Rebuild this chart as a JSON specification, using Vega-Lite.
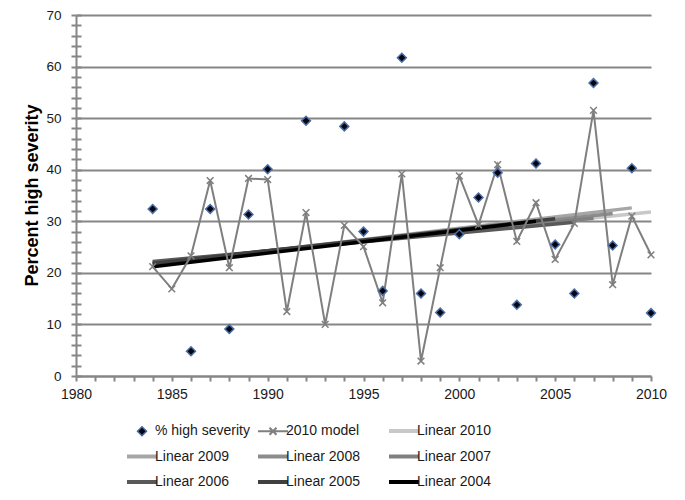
{
  "$schema": "https://vega.github.io/schema/vega-lite/v6.json",
  "width": 575,
  "height": 361,
  "autosize": {"type": "none"},
  "padding": {"left": 76, "top": 15, "right": 34, "bottom": 124},
  "background": "white",
  "config": {
    "view": {"stroke": null},
    "font": "Liberation Sans"
  },
  "data": {
    "values": [
      {"series": "Linear 2010", "year": 1984, "value": 21.9},
      {"series": "Linear 2010", "year": 2010, "value": 31.8},
      {"series": "Linear 2009", "year": 1984, "value": 21.6},
      {"series": "Linear 2009", "year": 2009, "value": 32.6},
      {"series": "Linear 2008", "year": 1984, "value": 21.8},
      {"series": "Linear 2008", "year": 2008, "value": 31.5},
      {"series": "Linear 2007", "year": 1984, "value": 22.0},
      {"series": "Linear 2007", "year": 2007, "value": 30.6},
      {"series": "Linear 2006", "year": 1984, "value": 22.2},
      {"series": "Linear 2006", "year": 2006, "value": 29.8},
      {"series": "Linear 2005", "year": 1984, "value": 21.8},
      {"series": "Linear 2005", "year": 2005, "value": 30.5},
      {"series": "Linear 2004", "year": 1984, "value": 21.2},
      {"series": "Linear 2004", "year": 2004, "value": 30.0},
      {"series": "2010 model", "year": 1984, "value": 21.2},
      {"series": "2010 model", "year": 1985, "value": 16.9},
      {"series": "2010 model", "year": 1986, "value": 23.3},
      {"series": "2010 model", "year": 1987, "value": 37.9},
      {"series": "2010 model", "year": 1988, "value": 21.0},
      {"series": "2010 model", "year": 1989, "value": 38.3},
      {"series": "2010 model", "year": 1990, "value": 38.1},
      {"series": "2010 model", "year": 1991, "value": 12.5},
      {"series": "2010 model", "year": 1992, "value": 31.7},
      {"series": "2010 model", "year": 1993, "value": 10.0},
      {"series": "2010 model", "year": 1994, "value": 29.2},
      {"series": "2010 model", "year": 1995, "value": 25.1},
      {"series": "2010 model", "year": 1996, "value": 14.2},
      {"series": "2010 model", "year": 1997, "value": 39.2},
      {"series": "2010 model", "year": 1998, "value": 2.9},
      {"series": "2010 model", "year": 1999, "value": 21.0},
      {"series": "2010 model", "year": 2000, "value": 38.8},
      {"series": "2010 model", "year": 2001, "value": 29.3},
      {"series": "2010 model", "year": 2002, "value": 41.0},
      {"series": "2010 model", "year": 2003, "value": 26.1},
      {"series": "2010 model", "year": 2004, "value": 33.6},
      {"series": "2010 model", "year": 2005, "value": 22.6},
      {"series": "2010 model", "year": 2006, "value": 29.6},
      {"series": "2010 model", "year": 2007, "value": 51.5},
      {"series": "2010 model", "year": 2008, "value": 17.7},
      {"series": "2010 model", "year": 2009, "value": 31.0},
      {"series": "2010 model", "year": 2010, "value": 23.5},
      {"series": "% high severity", "year": 1984, "value": 32.4},
      {"series": "% high severity", "year": 1986, "value": 4.8},
      {"series": "% high severity", "year": 1987, "value": 32.4},
      {"series": "% high severity", "year": 1988, "value": 9.1},
      {"series": "% high severity", "year": 1989, "value": 31.3},
      {"series": "% high severity", "year": 1990, "value": 40.1},
      {"series": "% high severity", "year": 1992, "value": 49.5},
      {"series": "% high severity", "year": 1994, "value": 48.4},
      {"series": "% high severity", "year": 1995, "value": 28.0},
      {"series": "% high severity", "year": 1996, "value": 16.5},
      {"series": "% high severity", "year": 1997, "value": 61.7},
      {"series": "% high severity", "year": 1998, "value": 16.0},
      {"series": "% high severity", "year": 1999, "value": 12.3},
      {"series": "% high severity", "year": 2000, "value": 27.5},
      {"series": "% high severity", "year": 2001, "value": 34.6},
      {"series": "% high severity", "year": 2002, "value": 39.4},
      {"series": "% high severity", "year": 2003, "value": 13.8},
      {"series": "% high severity", "year": 2004, "value": 41.2},
      {"series": "% high severity", "year": 2005, "value": 25.5},
      {"series": "% high severity", "year": 2006, "value": 16.0},
      {"series": "% high severity", "year": 2007, "value": 56.8},
      {"series": "% high severity", "year": 2008, "value": 25.3},
      {"series": "% high severity", "year": 2009, "value": 40.3},
      {"series": "% high severity", "year": 2010, "value": 12.2}
    ]
  },
  "resolve": {"axis": {"y": "independent"}},
  "encoding": {
    "x": {
      "field": "year", "type": "quantitative",
      "scale": {"domain": [1980, 2010], "nice": false, "zero": false},
      "axis": {
        "values": [1980,1981,1982,1983,1984,1985,1986,1987,1988,1989,1990,1991,1992,1993,1994,1995,1996,1997,1998,1999,2000,2001,2002,2003,2004,2005,2006,2007,2008,2009,2010],
        "format": "d",
        "labelExpr": "datum.value % 5 === 0 ? datum.label : ''",
        "grid": false,
        "tickSize": 5, "tickColor": "#868686", "tickWidth": 2,
        "domainColor": "#868686", "domainWidth": 2,
        "labelFontSize": 14, "labelPadding": 6, "labelColor": "#1a1a1a",
        "labelOverlap": false, "labelFlush": false,
        "title": null
      }
    }
  },
  "layer": [
    {
      "transform": [{"filter": "indexof(datum.series, 'Linear') === 0"}],
      "mark": {"type": "line", "strokeWidth": 3.5},
      "encoding": {
        "y": {
          "field": "value", "type": "quantitative",
          "scale": {"domain": [0, 70], "nice": false},
          "axis": {
            "orient": "left",
            "values": [0,2,4,6,8,10,12,14,16,18,20,22,24,26,28,30,32,34,36,38,40,42,44,46,48,50,52,54,56,58,60,62,64,66,68,70],
            "labelExpr": "datum.value % 10 === 0 ? datum.label : ''",
            "labelOverlap": false,
            "grid": true, "gridColor": "#868686", "gridWidth": 2,
            "gridOpacity": {"condition": {"test": "datum.value % 10 === 0", "value": 1}, "value": 0},
            "tickSize": 5, "tickColor": "#868686", "tickWidth": 2,
            "domainColor": "#868686", "domainWidth": 2,
            "labelFontSize": 13.5, "labelPadding": 10, "labelColor": "#1a1a1a",
            "title": "Percent high severity",
            "titleFontSize": 18, "titleFontWeight": "bold", "titleColor": "black",
            "titleX": -39, "titleY": 180, "titleAngle": 270,
            "titleAlign": "center", "titleBaseline": "alphabetic"
          }
        },
        "color": {
          "field": "series", "type": "nominal",
          "scale": {
            "domain": ["% high severity", "2010 model", "Linear 2010", "Linear 2009", "Linear 2008", "Linear 2007", "Linear 2006", "Linear 2005", "Linear 2004"],
            "range": ["#46689c", "#7f7f7f", "#c8c8c8", "#a6a6a6", "#8c8c8c", "#808080", "#595959", "#404040", "#000000"]
          },
          "legend": {
            "orient": "none", "legendX": 59, "legendY": 409,
            "direction": "horizontal", "columns": 3, "title": null,
            "symbolSize": 400, "symbolType": "stroke", "symbolStrokeWidth": 4,
            "labelFontSize": 14, "labelColor": "#1a1a1a", "labelOffset": 6,
            "columnPadding": 0, "rowPadding": 9.5, "gridAlign": "all",
            "padding": 0, "labelLimit": 200,
            "encode": {
              "symbols": {
                "update": {
                  "shape": {"signal": "datum.value === '% high severity' ? 'diamond' : datum.value === '2010 model' ? 'M-1.5,0H1.5M-0.35,-0.35L0.35,0.35M-0.35,0.35L0.35,-0.35' : 'M-1.5,0H1.5'"},
                  "size": {"signal": "datum.value === '% high severity' ? 80 : 400"},
                  "fill": {"signal": "datum.value === '% high severity' ? '#050510' : 'transparent'"},
                  "stroke": {"signal": "datum.value === '% high severity' ? '#4a70a8' : scale('color', datum.value)"},
                  "strokeWidth": {"signal": "datum.value === '% high severity' ? 1.5 : datum.value === '2010 model' ? 2 : 4"},
                  "opacity": {"value": 1}
                }
              }
            }
          }
        }
      }
    },
    {
      "transform": [{"filter": "datum.series === '2010 model'"}],
      "mark": {"type": "line", "strokeWidth": 2},
      "encoding": {
        "y": {"field": "value", "type": "quantitative", "axis": null},
        "color": {"field": "series", "type": "nominal"}
      }
    },
    {
      "transform": [{"filter": "datum.series === '2010 model'"}],
      "mark": {"type": "point", "shape": "M-1,-1L1,1M-1,1L1,-1", "filled": false, "stroke": "#7f7f7f", "strokeWidth": 1.5, "size": 45, "opacity": 1},
      "encoding": {
        "y": {"field": "value", "type": "quantitative", "axis": null}
      }
    },
    {
      "transform": [{"filter": "datum.series === '% high severity'"}],
      "mark": {"type": "point", "shape": "diamond", "filled": true, "fill": "#050510", "stroke": "#4a70a8", "strokeWidth": 1.5, "size": 80, "opacity": 1},
      "encoding": {
        "y": {
          "field": "value", "type": "quantitative",
          "axis": {
            "orient": "left",
            "values": [0,2,4,6,8,10,12,14,16,18,20,22,24,26,28,30,32,34,36,38,40,42,44,46,48,50,52,54,56,58,60,62,64,66,68,70],
            "labels": false, "grid": false, "domain": false, "title": null,
            "tickSize": -5, "tickColor": "#868686", "tickWidth": 2
          }
        }
      }
    }
  ]
}
